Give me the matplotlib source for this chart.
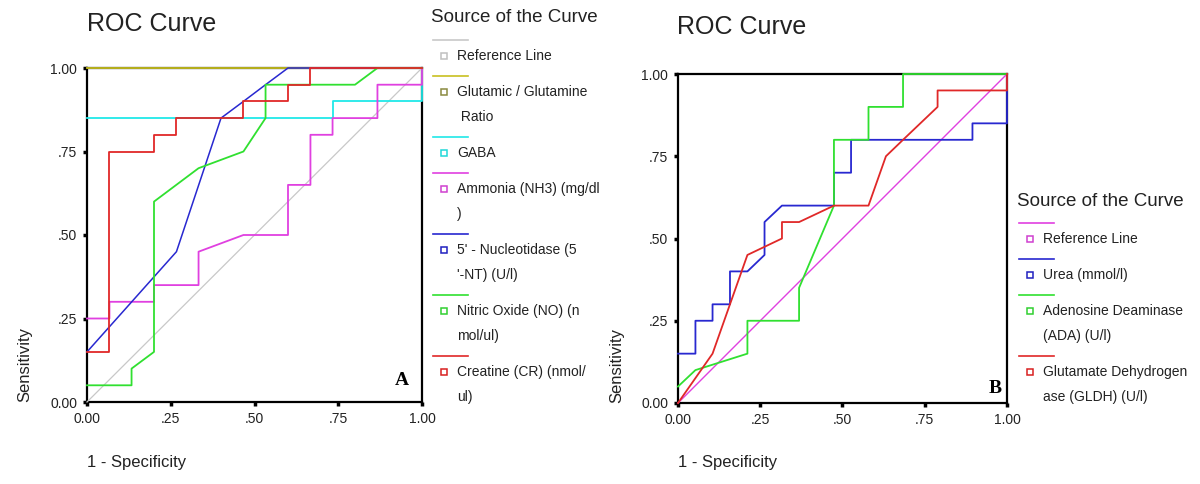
import matplotlib
matplotlib.use("Agg")
import matplotlib.pyplot as plt
from matplotlib.lines import Line2D

plt.rcParams['font.family'] = ['Liberation Sans', 'DejaVu Sans']

W, H = 1200, 484

# ---- panel A : curves (1 - specificity, sensitivity) ----
a_ref_x = [0, 1]
a_ref_y = [0, 1]
a_glu_x = [0, 1]
a_glu_y = [1, 1]
a_gaba_x = [0, 0.733, 0.733, 1, 1]
a_gaba_y = [0.85, 0.85, 0.90, 0.90, 1]
a_nh3_x = [0, 0.067, 0.067, 0.2, 0.2, 0.333, 0.333, 0.467, 0.6, 0.6, 0.667, 0.667, 0.733, 0.733, 0.867, 0.867, 1, 1]
a_nh3_y = [0.25, 0.25, 0.30, 0.30, 0.35, 0.35, 0.45, 0.50, 0.50, 0.65, 0.65, 0.80, 0.80, 0.85, 0.85, 0.95, 0.95, 1]
a_nt_x = [0, 0.267, 0.4, 0.467, 0.533, 0.6, 1]
a_nt_y = [0.15, 0.45, 0.85, 0.90, 0.95, 1, 1]
a_no_x = [0, 0.133, 0.133, 0.2, 0.2, 0.333, 0.467, 0.533, 0.533, 0.8, 0.867, 1]
a_no_y = [0.05, 0.05, 0.10, 0.15, 0.60, 0.70, 0.75, 0.85, 0.95, 0.95, 1, 1]
a_cr_x = [0, 0.067, 0.067, 0.2, 0.2, 0.267, 0.267, 0.467, 0.467, 0.6, 0.6, 0.667, 0.667, 1]
a_cr_y = [0.15, 0.15, 0.75, 0.75, 0.80, 0.80, 0.85, 0.85, 0.90, 0.90, 0.95, 0.95, 1, 1]

a_labels = ["Reference Line", "Glutamic / Glutamine\n Ratio", "GABA",
            "Ammonia (NH3) (mg/dl\n)", "5' - Nucleotidase (5\n'-NT) (U/l)",
            "Nitric Oxide (NO) (n\nmol/ul)", "Creatine (CR) (nmol/\nul)"]
a_colors = ["#c8c8c8", "#c8c020", "#20e8e8", "#e040e0", "#2828d0", "#30e030", "#e02828"]
a_marker_colors = ["#c0c0c0", "#8a8a40", "#20d8d8", "#d040d0", "#2020c0", "#30d030", "#d82020"]

# ---- panel B ----
b_ref_x = [0, 1]
b_ref_y = [0, 1]
b_urea_x = [0, 0.053, 0.053, 0.105, 0.105, 0.158, 0.158, 0.211, 0.263, 0.263, 0.316, 0.474, 0.474, 0.526, 0.526, 0.895, 0.895, 1, 1]
b_urea_y = [0.15, 0.15, 0.25, 0.25, 0.30, 0.30, 0.40, 0.40, 0.45, 0.55, 0.60, 0.60, 0.70, 0.70, 0.80, 0.80, 0.85, 0.85, 1]
b_ada_x = [0, 0.053, 0.211, 0.211, 0.368, 0.368, 0.474, 0.474, 0.579, 0.579, 0.684, 0.684, 1]
b_ada_y = [0.05, 0.10, 0.15, 0.25, 0.25, 0.35, 0.60, 0.80, 0.80, 0.90, 0.90, 1, 1]
b_gldh_x = [0, 0.105, 0.158, 0.211, 0.316, 0.316, 0.368, 0.474, 0.579, 0.632, 0.684, 0.789, 0.789, 1, 1]
b_gldh_y = [0, 0.15, 0.30, 0.45, 0.50, 0.55, 0.55, 0.60, 0.60, 0.75, 0.80, 0.90, 0.95, 0.95, 1]

b_labels = ["Reference Line", "Urea (mmol/l)", "Adenosine Deaminase\n(ADA) (U/l)",
            "Glutamate Dehydrogen\nase (GLDH) (U/l)"]
b_colors = ["#e040e0", "#2828d0", "#30e030", "#e02828"]
b_marker_colors = ["#d040d0", "#2020c0", "#30d030", "#d82020"]

ticks = [0, 0.25, 0.5, 0.75, 1.0]
tick_labels = ["0.00", ".25", ".50", ".75", "1.00"]


def px(x, y):
    return x / W, 1 - y / H


def setup_axes(ax, letter, lx, ly):
    ax.set_xlim(0, 1)
    ax.set_ylim(0, 1)
    ax.set_xticks(ticks)
    ax.set_yticks(ticks)
    ax.set_xticklabels(tick_labels)
    ax.set_yticklabels(tick_labels)
    ax.tick_params(length=3, width=2.5, labelsize=10, pad=4, color="black", labelcolor="#222222")
    for s in ax.spines.values():
        s.set_linewidth(1.6)
        s.set_zorder(1)
    ax.text(lx, ly, letter, transform=ax.transAxes, fontsize=14, fontweight="bold",
            family="Liberation Serif", ha="center", va="center")


def draw_key(fig, x0, y0, labels, colors, mcolors):
    # SPSS-like legend: line sample above, small hollow square + text below
    fig.text(*px(x0 - 2, y0 - 22), "Source of the Curve", fontsize=13.5, va="center", ha="left",
             color="#222222")
    y = y0
    for lab, c, mc in zip(labels, colors, mcolors):
        fig.add_artist(Line2D([(x0) / W, (x0 + 35) / W], [1 - y / H, 1 - y / H],
                              color=c, lw=1.2, transform=fig.transFigure))
        ty = y + 16
        fig.add_artist(Line2D([(x0 + 11) / W], [1 - ty / H], marker="s", ms=4.2,
                              mfc="white", mec=mc, mew=1.1, transform=fig.transFigure))
        parts = lab.split("\n")
        for i, p in enumerate(parts):
            fig.text(*px(x0 + 24, ty + 25 * i), p, fontsize=10, va="center", ha="left", color="#222222")
        y = ty + 25 * (len(parts) - 1) + 20


fig = plt.figure(figsize=(12, 4.84), dpi=100)

# panel A
ax1 = fig.add_axes([87 / W, 1 - 402 / H, 335 / W, 334 / H])
ax1.plot(a_ref_x, a_ref_y, color=a_colors[0], lw=0.9, clip_on=False)
ax1.plot(a_glu_x, a_glu_y, color=a_colors[1], lw=1.3, clip_on=False)
ax1.plot(a_gaba_x, a_gaba_y, color=a_colors[2], lw=1.3, clip_on=False)
ax1.plot(a_nh3_x, a_nh3_y, color=a_colors[3], lw=1.3, clip_on=False)
ax1.plot(a_nt_x, a_nt_y, color=a_colors[4], lw=1.1, clip_on=False)
ax1.plot(a_no_x, a_no_y, color=a_colors[5], lw=1.3, clip_on=False)
ax1.plot(a_cr_x, a_cr_y, color=a_colors[6], lw=1.3, clip_on=False)
setup_axes(ax1, "A", 0.94, 0.065)
fig.text(*px(87, 24), "ROC Curve", fontsize=18, va="center", ha="left", color="#222222")
fig.text(*px(25, 402), "Sensitivity", fontsize=12, rotation=90, va="bottom", ha="center", color="#222222")
fig.text(*px(87, 462), "1 - Specificity", fontsize=12, va="center", ha="left", color="#222222")
draw_key(fig, 433, 40, a_labels, a_colors, a_marker_colors)

# panel B
ax2 = fig.add_axes([678 / W, 1 - 403 / H, 329 / W, 329 / H])
ax2.plot(b_ref_x, b_ref_y, color=b_colors[0], lw=1.0, clip_on=False)
ax2.plot(b_urea_x, b_urea_y, color=b_colors[1], lw=1.3, clip_on=False)
ax2.plot(b_ada_x, b_ada_y, color=b_colors[2], lw=1.3, clip_on=False)
ax2.plot(b_gldh_x, b_gldh_y, color=b_colors[3], lw=1.3, clip_on=False)
setup_axes(ax2, "B", 0.963, 0.045)
fig.text(*px(677, 27), "ROC Curve", fontsize=18, va="center", ha="left", color="#222222")
fig.text(*px(617, 403), "Sensitivity", fontsize=12, rotation=90, va="bottom", ha="center", color="#222222")
fig.text(*px(678, 463), "1 - Specificity", fontsize=12, va="center", ha="left", color="#222222")
draw_key(fig, 1019, 223, b_labels, b_colors, b_marker_colors)

fig.savefig("out.png", dpi=100)
